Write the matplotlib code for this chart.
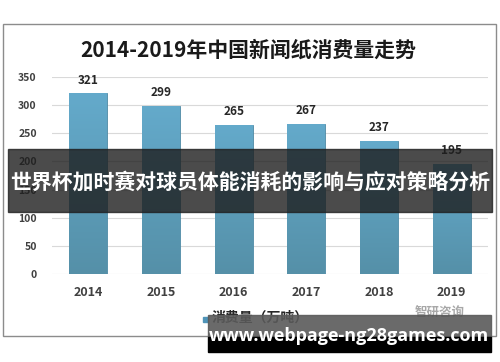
import matplotlib
matplotlib.use("Agg")
import matplotlib.pyplot as plt
import numpy as np
from matplotlib.patches import Rectangle

plt.rcParams['font.family'] = ['Noto Sans CJK SC', 'DejaVu Sans']

# data
years = ["2014", "2015", "2016", "2017", "2018", "2019"]
consumption = [321, 299, 265, 267, 237, 195]
yticks = [0, 50, 100, 150, 200, 250, 300, 350]

title = "2014-2019年中国新闻纸消费量走势"
legend_label = "消费量（万吨）"
banner = "世界杯加时赛对球员体能消耗的影响与应对策略分析"
site = "www.webpage-ng28games.com"
brand = "智研咨询"

W, H = 500, 362
fig = plt.figure(figsize=(W / 100, H / 100), dpi=100)


def fx(px):
    return px / W


def fy(py):
    return 1 - py / H


# chart frame
fig.patches.append(Rectangle((fx(3), fy(336)), fx(493), (336 - 24) / H,
                             transform=fig.transFigure, fill=False,
                             edgecolor="#8c8c8c", linewidth=1.0, zorder=0))

ax = fig.add_axes([fx(52), fy(274), fx(488 - 52), (274 - 77) / H])
x = np.arange(len(years))
bars = ax.bar(x, consumption, width=0.52, color="#5fa3c3",
              edgecolor="#4f8aa5", linewidth=0.6, zorder=2)

# vertical gradient inside each bar
grad = np.linspace(0, 1, 256).reshape(-1, 1)
cmap = matplotlib.colors.LinearSegmentedColormap.from_list(
    "bar", ["#5590a8", "#64aacb"])
for b in bars:
    im = ax.imshow(grad, cmap=cmap, aspect="auto", origin="lower",
                   extent=[b.get_x(), b.get_x() + b.get_width(), 0, b.get_height()],
                   zorder=2.5)
    im.set_clip_path(b)

for xi, v in zip(x, consumption):
    ax.text(xi, v + 12, str(v), ha="center", va="bottom", fontsize=8.5,
            fontweight="bold", color="#262626")

ax.set_xlim(-0.5, len(years) - 0.5)
ax.set_ylim(0, 350)
ax.set_yticks(yticks)
ax.set_yticklabels([str(t) for t in yticks], fontsize=7.5, fontweight="bold",
                   color="#404040")
ax.set_xticks(x)
ax.set_xticklabels(years, fontsize=9, fontweight="bold", color="#404040")
ax.tick_params(length=0, axis="y", pad=11)
ax.tick_params(length=0, axis="x", pad=9)
ax.grid(axis="y", color="#d9d9d9", linewidth=0.8, zorder=0)
for s in ax.spines.values():
    s.set_visible(False)
ax.set_facecolor("none")

fig.text(fx(248), fy(50), title, ha="center", va="center", fontsize=15,
         fontweight="bold", color="#1a1a1a")

# legend
fig.patches.append(Rectangle((fx(203), fy(322)), fx(5), 5 / H,
                             transform=fig.transFigure, color="#4f94b8"))
fig.text(fx(212), fy(318), legend_label, ha="left", va="center", fontsize=10,
         fontweight="bold", color="#262626")
fig.text(fx(440), fy(312), brand, ha="center", va="center", fontsize=9,
         fontweight="bold", color="#a8a8a8")

# banner overlay
fig.patches.append(Rectangle((fx(8), fy(212)), fx(484), (212 - 149) / H,
                             transform=fig.transFigure, color="#1e1e1e",
                             alpha=0.8, zorder=5))
fig.text(fx(250), fy(182), banner, ha="center", va="center", fontsize=15,
         fontweight="bold", color="white", zorder=6)

# site watermark
fig.patches.append(Rectangle((fx(208), fy(337)), fx(283), (337 - 315) / H,
                             transform=fig.transFigure, color="#5a5a5a",
                             alpha=0.9, zorder=5))
fig.patches.append(Rectangle((fx(208), fy(352)), fx(283), (352 - 337) / H,
                             transform=fig.transFigure, color="black",
                             zorder=5))
fig.text(fx(349), fy(336), site, ha="center", va="center", fontsize=13,
         fontweight="bold", color="white", family="Open Sans", zorder=6)

fig.savefig("out.png", dpi=100)
